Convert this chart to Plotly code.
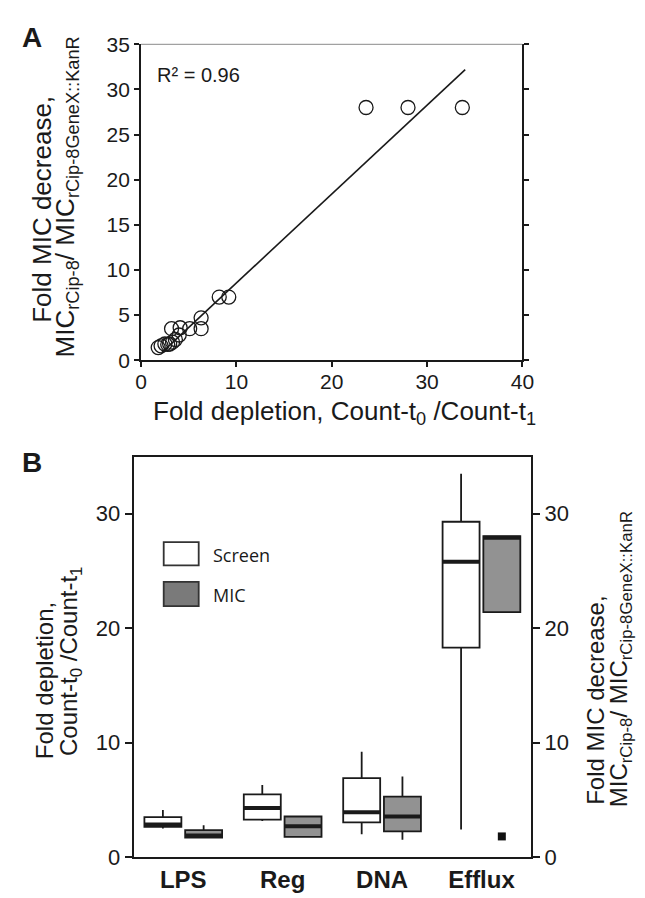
import plotly.graph_objects as go

# ---------------- Panel A data ----------------
fold_depletion = [1.8, 2.1, 2.5, 2.8, 3.0, 3.3, 3.6, 3.2, 4.1, 4.0, 5.1, 6.3, 6.3, 8.2, 9.2, 23.6, 28.0, 33.7]
mic_decrease = [1.4, 1.6, 1.8, 1.75, 1.8, 2.0, 2.3, 3.5, 3.6, 2.8, 3.5, 3.5, 4.7, 7.0, 7.0, 28.0, 28.0, 28.0]
trend_x = [2.2, 34.0]
trend_y = [0.88, 32.2]
r2_text = "R² = 0.96"

# ---------------- Panel B data ----------------
categories = ["LPS", "Reg", "DNA", "Efflux"]
screen_low = [2.5, 3.15, 1.98, 2.4]
screen_q1 = [2.64, 3.26, 3.03, 18.3]
screen_median = [2.85, 4.28, 3.91, 25.8]
screen_q3 = [3.49, 5.47, 6.89, 29.3]
screen_high = [4.1, 6.3, 9.2, 33.5]

mic_low = [1.70, 1.76, 1.5, 21.4]
mic_q1 = [1.70, 1.76, 2.24, 21.4]
mic_median = [1.88, 2.7, 3.54, 27.9]
mic_q3 = [2.35, 3.54, 5.27, 28.05]
mic_high = [2.78, 3.54, 7.03, 28.05]

mic_outlier_cat = ["Efflux"]
mic_outlier_y = [1.8]

W, H = 645, 898
def px(p):
    return p / W
def py(p):
    return 1 - p / H

FONT = "Liberation Sans, Arial, sans-serif"
DARK = "#1a1a1a"

fig = go.Figure()

# Panel A
fig.add_trace(go.Scatter(
    x=fold_depletion, y=mic_decrease, mode="markers",
    marker=dict(symbol="circle-open", size=14, color=DARK, line=dict(width=1.3, color=DARK)),
    xaxis="x", yaxis="y", showlegend=False, hoverinfo="skip"))
fig.add_trace(go.Scatter(
    x=trend_x, y=trend_y, mode="lines", line=dict(color=DARK, width=1.6),
    xaxis="x", yaxis="y", showlegend=False, hoverinfo="skip"))

# Panel B
offset = 0.205
bw = 0.372
cat_idx = list(range(len(categories)))
screen_pos = [i - offset for i in cat_idx]
mic_pos = [i + offset for i in cat_idx]

def box(pos, low, q1, med, q3, high, fill, yaxis, lw):
    return go.Box(
        x=pos, lowerfence=low, q1=q1, median=med, q3=q3, upperfence=high,
        width=bw, fillcolor=fill, line=dict(color=DARK, width=lw),
        whiskerwidth=0, boxpoints=False, xaxis="x2", yaxis=yaxis,
        showlegend=False, hoverinfo="skip")

fig.add_trace(box(screen_pos, screen_low, screen_q1, screen_median, screen_q3, screen_high, "white", "y2", 1.8))
fig.add_trace(box(screen_pos, screen_median, screen_median, screen_median, screen_median, screen_median,
                  "rgba(0,0,0,0)", "y2", 4))
fig.add_trace(box(mic_pos, mic_low, mic_q1, mic_median, mic_q3, mic_high, "#929292", "y3", 1.8))
fig.add_trace(box(mic_pos, mic_median, mic_median, mic_median, mic_median, mic_median,
                  "rgba(0,0,0,0)", "y3", 4))

out_pos = [categories.index(c) + offset for c in mic_outlier_cat]
fig.add_trace(go.Scatter(
    x=out_pos, y=mic_outlier_y, mode="markers",
    marker=dict(symbol="square", size=8, color="#111"),
    xaxis="x2", yaxis="y3", showlegend=False, hoverinfo="skip"))

def axis_common(size, ticklen):
    return dict(showgrid=False, zeroline=False, linecolor=DARK, linewidth=2,
                ticks="outside", tickcolor=DARK, tickwidth=1.5, ticklen=ticklen,
                tickfont=dict(family=FONT, size=size, color=DARK))

fig.update_layout(
    width=W, height=H, margin=dict(l=0, r=0, t=0, b=0),
    paper_bgcolor="white", plot_bgcolor="white",
    boxmode="overlay", showlegend=False,
    xaxis=dict(domain=[px(130.7), px(523)], range=[0, 40], tickvals=[0, 10, 20, 30, 40],
               anchor="y", ticklabelstandoff=-3, **axis_common(21, 5)),
    yaxis=dict(domain=[py(350), py(25)], range=[0, 35], tickvals=[0, 5, 10, 15, 20, 25, 30, 35],
               anchor="x", mirror="ticks", **axis_common(21, 5)),
    xaxis2=dict(domain=[px(123), px(532)], range=[-0.5, 3.5], tickvals=cat_idx,
                ticktext=[f"<b>{c}</b>" for c in categories], anchor="y2", mirror=True,
                showgrid=False, zeroline=False, linecolor=DARK, linewidth=2, ticks="",
                tickfont=dict(family=FONT, size=24, color=DARK)),
    yaxis2=dict(domain=[py(861), py(449)], range=[0, 35], tickvals=[0, 10, 20, 30],
                anchor="x2", **axis_common(22, 7)),
    yaxis3=dict(domain=[py(861), py(449)], range=[0, 35], tickvals=[0, 10, 20, 30],
                anchor="x2", overlaying="y2", side="right", **axis_common(22, 7)),
)

annotations = []
def ann(text, x, y, size, angle=0, bold=False, xanchor="center", family=FONT):
    annotations.append(dict(text=f"<b>{text}</b>" if bold else text, x=px(x), y=py(y),
                            xref="paper", yref="paper", showarrow=False, textangle=angle,
                            xanchor=xanchor, yanchor="middle",
                            font=dict(family=family, size=size, color=DARK)))

ann("A", 19, 18, 28, bold=True)
ann("B", 19, 455, 28, bold=True)
ann(r2_text, 145, 57, 20, xanchor="left")
ann("Fold depletion, Count-t<sub>0</sub> /Count-t<sub>1</sub>", 340, 404, 26)
ann("Fold MIC decrease,", 28, 195, 26, angle=-90)
ann("MIC<sub>rCip-8</sub>/ MIC<sub>rCip-8GeneX::KanR</sub>", 54, 182, 26, angle=-90)
ann("Fold depletion,", 31, 680, 24, angle=-90)
ann("Count-t<sub>0</sub> /Count-t<sub>1</sub>", 58, 660, 24, angle=-90)
ann("Fold MIC decrease,", 598, 700, 24, angle=-90)
ann("MIC<sub>rCip-8</sub>/ MIC<sub>rCip-8GeneX::KanR</sub>", 624, 658, 24, angle=-90)
ann("Screen", 203, 550, 18, xanchor="left", family="Open Sans, sans-serif")
ann("MIC", 203, 591, 18, xanchor="left", family="Open Sans, sans-serif")
fig.update_layout(annotations=annotations)

shapes = [
    dict(type="line", xref="x domain", yref="y domain", x0=0, x1=1, y0=1, y1=1,
         line=dict(color="#8a8a8a", width=1)),
    dict(type="rect", xref="paper", yref="paper", x0=px(154), x1=px(190), y0=py(561), y1=py(537),
         fillcolor="white", line=dict(color="#333", width=1.8)),
    dict(type="rect", xref="paper", yref="paper", x0=px(154), x1=px(190), y0=py(603), y1=py(578),
         fillcolor="#7a7a7a", line=dict(color="#333", width=1.8)),
]
fig.update_layout(shapes=shapes)

fig.write_html("out.html")
